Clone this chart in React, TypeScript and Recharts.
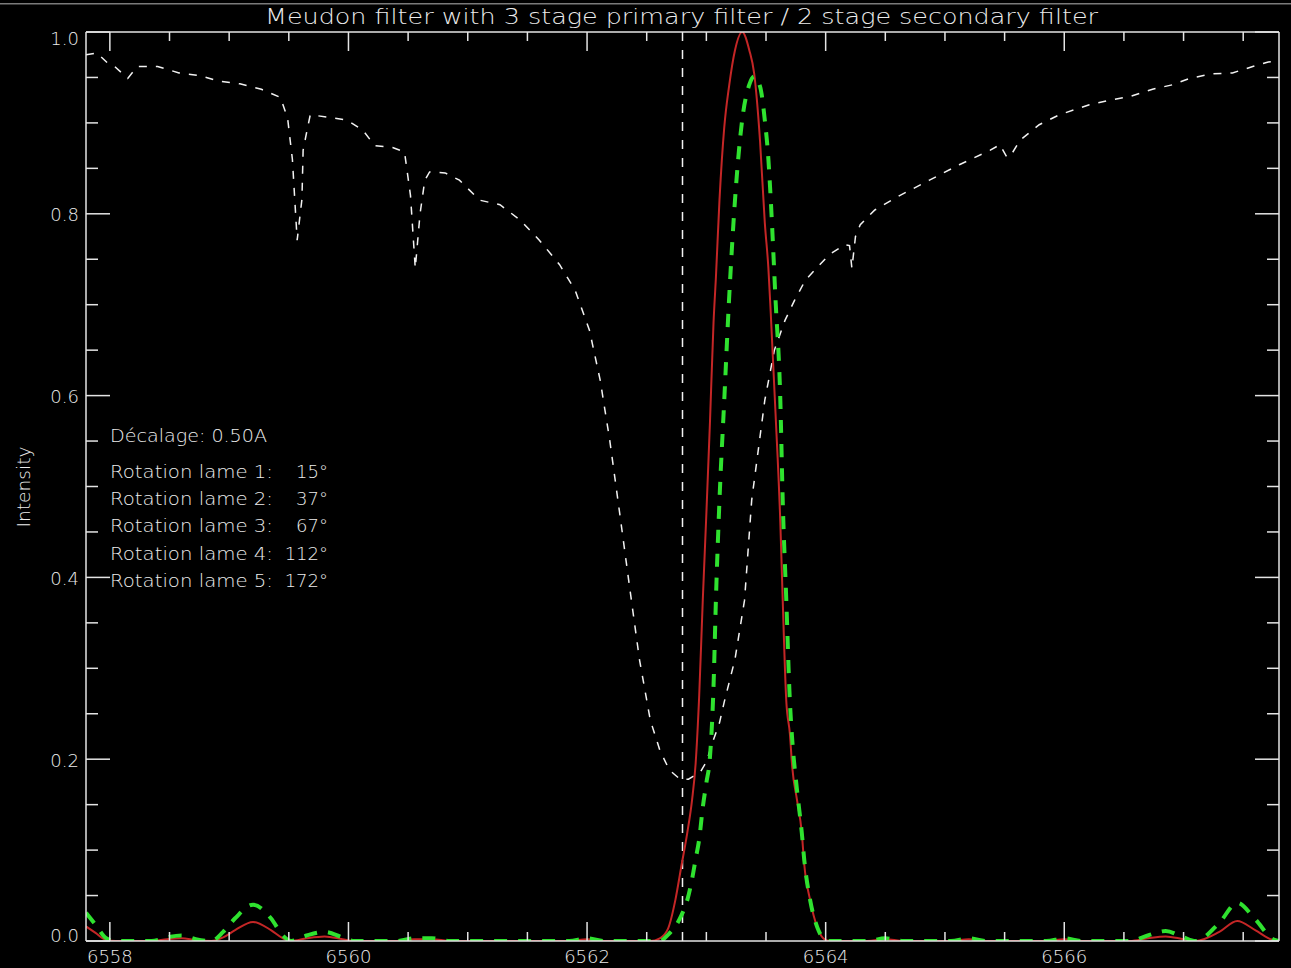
import React from 'react';
import { LineChart, Line, XAxis, YAxis, ReferenceLine } from 'recharts';

// ---------- data ----------
const spectrumWl = [6557.80, 6557.89, 6557.98, 6558.04, 6558.15, 6558.23, 6558.40, 6558.58, 6558.76, 6558.91, 6559.09, 6559.27, 6559.43, 6559.49, 6559.53, 6559.57, 6559.61, 6559.62, 6559.65, 6559.68, 6559.84, 6559.99, 6560.12, 6560.22, 6560.37, 6560.47, 6560.52, 6560.56, 6560.60, 6560.64, 6560.68, 6560.81, 6560.93, 6561.10, 6561.27, 6561.44, 6561.60, 6561.77, 6561.90, 6562.02, 6562.11, 6562.19, 6562.27, 6562.36, 6562.44, 6562.53, 6562.61, 6562.69, 6562.78, 6562.85, 6562.90, 6562.95, 6563.00, 6563.05, 6563.11, 6563.15, 6563.24, 6563.32, 6563.38, 6563.49, 6563.57, 6563.66, 6563.74, 6563.83, 6563.95, 6564.03, 6564.16, 6564.20, 6564.22, 6564.25, 6564.29, 6564.41, 6564.62, 6564.87, 6565.12, 6565.38, 6565.46, 6565.52, 6565.56, 6565.63, 6565.79, 6565.96, 6566.21, 6566.38, 6566.55, 6566.74, 6566.91, 6567.05, 6567.24, 6567.41, 6567.58, 6567.71, 6567.80];
const spectrumI = [0.975, 0.977, 0.966, 0.962, 0.949, 0.962, 0.962, 0.955, 0.952, 0.946, 0.943, 0.937, 0.928, 0.905, 0.860, 0.771, 0.816, 0.870, 0.890, 0.909, 0.906, 0.903, 0.892, 0.875, 0.873, 0.868, 0.820, 0.740, 0.800, 0.837, 0.846, 0.845, 0.837, 0.815, 0.810, 0.793, 0.771, 0.744, 0.716, 0.672, 0.617, 0.551, 0.474, 0.386, 0.309, 0.243, 0.210, 0.188, 0.178, 0.178, 0.182, 0.186, 0.197, 0.218, 0.240, 0.263, 0.310, 0.375, 0.485, 0.595, 0.650, 0.683, 0.705, 0.727, 0.744, 0.755, 0.766, 0.765, 0.740, 0.775, 0.788, 0.804, 0.820, 0.837, 0.854, 0.870, 0.876, 0.862, 0.866, 0.881, 0.898, 0.909, 0.920, 0.925, 0.929, 0.937, 0.942, 0.949, 0.954, 0.955, 0.962, 0.967, 0.968];

const filterWl = [6557.80, 6557.88, 6557.97, 6558.05, 6558.35, 6558.48, 6558.60, 6558.72, 6558.85, 6558.95, 6559.05, 6559.20, 6559.35, 6559.45, 6559.52, 6559.65, 6559.80, 6559.95, 6560.05, 6560.40, 6560.55, 6560.70, 6560.85, 6561.85, 6562.00, 6562.15, 6562.44, 6562.53, 6562.61, 6562.68, 6562.74, 6562.79, 6562.84, 6562.88, 6562.91, 6562.94, 6562.97, 6563.00, 6563.03, 6563.06, 6563.08, 6563.11, 6563.15, 6563.19, 6563.24, 6563.30, 6563.36, 6563.40, 6563.45, 6563.49, 6563.52, 6563.54, 6563.58, 6563.62, 6563.64, 6563.67, 6563.70, 6563.72, 6563.76, 6563.80, 6563.82, 6563.87, 6563.93, 6563.98, 6564.03, 6564.35, 6564.50, 6564.65, 6565.05, 6565.20, 6565.35, 6565.85, 6566.00, 6566.15, 6566.55, 6566.70, 6566.85, 6567.00, 6567.10, 6567.30, 6567.45, 6567.60, 6567.75, 6567.80];
const primaryI = [0.016, 0.009, 0.001, 0, 0, 0.002, 0.003, 0.001, 0, 0.004, 0.012, 0.021, 0.012, 0.003, 0, 0.003, 0.005, 0.002, 0, 0, 0.002, 0.002, 0, 0, 0.002, 0, 0, 0, 0.003, 0.014, 0.045, 0.082, 0.119, 0.155, 0.195, 0.270, 0.375, 0.470, 0.570, 0.680, 0.730, 0.815, 0.895, 0.940, 0.980, 1.000, 0.980, 0.955, 0.880, 0.790, 0.740, 0.690, 0.580, 0.460, 0.375, 0.264, 0.228, 0.191, 0.155, 0.119, 0.085, 0.045, 0.015, 0.003, 0, 0, 0.002, 0, 0, 0.002, 0, 0, 0.002, 0, 0, 0.003, 0.005, 0.002, 0, 0.010, 0.022, 0.012, 0.001, 0];
const secondaryI = [0.031, 0.018, 0.003, 0, 0, 0.004, 0.006, 0.002, 0, 0.010, 0.025, 0.040, 0.025, 0.006, 0, 0.006, 0.010, 0.004, 0, 0, 0.003, 0.003, 0, 0, 0.003, 0, 0, 0, 0, 0.007, 0.016, 0.028, 0.045, 0.068, 0.090, 0.112, 0.147, 0.174, 0.202, 0.280, 0.375, 0.485, 0.595, 0.705, 0.815, 0.903, 0.942, 0.951, 0.940, 0.903, 0.860, 0.815, 0.705, 0.595, 0.485, 0.375, 0.264, 0.221, 0.166, 0.119, 0.090, 0.045, 0.015, 0.003, 0, 0, 0.003, 0, 0, 0.003, 0, 0, 0.003, 0, 0, 0.006, 0.011, 0.004, 0, 0.020, 0.042, 0.024, 0.002, 0];

const lineCenter = 6562.8;

const xTicks = [6558, 6558.5, 6559, 6559.5, 6560, 6560.5, 6561, 6561.5, 6562, 6562.5, 6563, 6563.5, 6564, 6564.5, 6565, 6565.5, 6566, 6566.5, 6567, 6567.5];
const xMajor = [6558, 6560, 6562, 6564, 6566];
const yTicks = [0, 0.05, 0.1, 0.15, 0.2, 0.25, 0.3, 0.35, 0.4, 0.45, 0.5, 0.55, 0.6, 0.65, 0.7, 0.75, 0.8, 0.85, 0.9, 0.95, 1.0];
const yMajor = [0, 0.2, 0.4, 0.6, 0.8, 1.0];

const title = 'Meudon filter with 3 stage primary filter / 2 stage secondary filter';
const yLabel = 'Intensity';
const shiftText = 'Décalage: 0.50A';
const rotationLabels = ['Rotation lame 1:', 'Rotation lame 2:', 'Rotation lame 3:', 'Rotation lame 4:', 'Rotation lame 5:'];
const rotationValues = ['15°', '37°', '67°', '112°', '172°'];

// ---------- tables ----------
const spectrumData = spectrumWl.map((x, i) => ({ x, y: spectrumI[i] }));
const primaryData = filterWl.map((x, i) => ({ x, y: primaryI[i] }));
const secondaryData = filterWl.map((x, i) => ({ x, y: secondaryI[i] }));

// ---------- style ----------
const W = 1291;
const H = 968;
const AX = '#e4e4e4';
const TXT = '#ececec';
const FONT = '"DejaVu Sans", "Liberation Sans", sans-serif';
const FW = 200;
const DOMX: [number, number] = [6557.8, 6567.8];
const DOMY: [number, number] = [0, 1];

const isIn = (arr: number[], v: number) => arr.some((m) => Math.abs(m - v) < 1e-6);

const BottomTick = (p: any) => {
  const v = p.payload.value;
  const major = isIn(xMajor, v);
  return (
    <g>
      <line x1={p.x} x2={p.x} y1={p.y} y2={p.y - (major ? 19 : 9)} stroke={AX} strokeWidth={1.5} />
      {major && (
        <text x={p.x} y={p.y + 22} textAnchor="middle" fill={TXT} fontFamily={FONT} fontWeight={FW} fontSize={18}>
          {String(v)}
        </text>
      )}
    </g>
  );
};

const TopTick = (p: any) => {
  const v = p.payload.value;
  const major = isIn(xMajor, v);
  return <line x1={p.x} x2={p.x} y1={p.y} y2={p.y + (major ? 19 : 9)} stroke={AX} strokeWidth={1.5} />;
};

const LeftTick = (p: any) => {
  const v = p.payload.value;
  const major = isIn(yMajor, v);
  const dy = Math.abs(v - 1) < 1e-6 ? 13 : Math.abs(v) < 1e-6 ? 0.5 : 7.5;
  return (
    <g>
      <line x1={p.x} x2={p.x + (major ? 24 : 12)} y1={p.y} y2={p.y} stroke={AX} strokeWidth={1.5} />
      {major && (
        <text x={p.x - 7} y={p.y + dy} textAnchor="end" fill={TXT} fontFamily={FONT} fontWeight={FW} fontSize={18}>
          {v.toFixed(1)}
        </text>
      )}
    </g>
  );
};

const RightTick = (p: any) => {
  const v = p.payload.value;
  const major = isIn(yMajor, v);
  return <line x1={p.x} x2={p.x - (major ? 24 : 12)} y1={p.y} y2={p.y} stroke={AX} strokeWidth={1.5} />;
};

export default function App() {
  return (
    <div style={{ position: 'absolute', left: 0, top: 0, width: W, height: H, background: '#000', overflow: 'hidden' }}>
      <LineChart width={W} height={H} margin={{ top: 0, right: 0, bottom: 0, left: 0 }}>
        <XAxis
          xAxisId="b"
          orientation="bottom"
          type="number"
          dataKey="x"
          domain={DOMX}
          ticks={xTicks}
          interval={0}
          height={27}
          allowDataOverflow
          tickLine={false}
          tickSize={0}
          tickMargin={0}
          axisLine={{ stroke: AX, strokeWidth: 1.5 }}
          tick={(p: any) => <BottomTick {...p} />}
        />
        <XAxis
          xAxisId="t"
          orientation="top"
          type="number"
          dataKey="x"
          domain={DOMX}
          ticks={xTicks}
          interval={0}
          height={32}
          allowDataOverflow
          tickLine={false}
          tickSize={0}
          tickMargin={0}
          axisLine={{ stroke: AX, strokeWidth: 1.5 }}
          tick={(p: any) => <TopTick {...p} />}
        />
        <YAxis
          yAxisId="l"
          orientation="left"
          type="number"
          domain={DOMY}
          ticks={yTicks}
          interval={0}
          width={86}
          allowDataOverflow
          tickLine={false}
          tickSize={0}
          tickMargin={0}
          axisLine={{ stroke: AX, strokeWidth: 1.5 }}
          tick={(p: any) => <LeftTick {...p} />}
        />
        <YAxis
          yAxisId="r"
          orientation="right"
          type="number"
          domain={DOMY}
          ticks={yTicks}
          interval={0}
          width={12}
          allowDataOverflow
          tickLine={false}
          tickSize={0}
          tickMargin={0}
          axisLine={{ stroke: AX, strokeWidth: 1.5 }}
          tick={(p: any) => <RightTick {...p} />}
        />
        <Line
          xAxisId="b"
          yAxisId="l"
          data={spectrumData}
          dataKey="y"
          type="linear"
          stroke="#f2f2f2"
          strokeWidth={1.5}
          strokeDasharray="8 9"
          dot={false}
          activeDot={false}
          isAnimationActive={false}
        />
        <ReferenceLine xAxisId="b" yAxisId="l" x={lineCenter} stroke="#f2f2f2" strokeWidth={1.5} strokeDasharray="9 9" />
        <Line
          xAxisId="b"
          yAxisId="l"
          data={primaryData}
          dataKey="y"
          type="monotone"
          stroke="#c42626"
          strokeWidth={2}
          dot={false}
          activeDot={false}
          isAnimationActive={false}
        />
        <Line
          xAxisId="b"
          yAxisId="l"
          data={secondaryData}
          dataKey="y"
          type="monotone"
          stroke="#2fe22f"
          strokeWidth={4}
          strokeDasharray="13 11"
          dot={false}
          activeDot={false}
          isAnimationActive={false}
        />
      </LineChart>
      <svg width={W} height={H} style={{ position: 'absolute', left: 0, top: 0, pointerEvents: 'none' }}>
        <rect x={0} y={3} width={W} height={1.5} fill="#7a7a7a" />
        <text x={265} y={24} fill={TXT} fontFamily={FONT} fontWeight={FW} fontSize={21} textLength={833} lengthAdjust="spacingAndGlyphs">
          {title}
        </text>
        <text
          x={30}
          y={487}
          transform="rotate(-90 30 487)"
          textAnchor="middle"
          fill={TXT}
          fontFamily={FONT}
          fontWeight={FW}
          fontSize={17}
          textLength={81}
          lengthAdjust="spacingAndGlyphs"
        >
          {yLabel}
        </text>
        <text x={110} y={442} fill={TXT} fontFamily={FONT} fontWeight={FW} fontSize={18} textLength={157} lengthAdjust="spacingAndGlyphs">
          {shiftText}
        </text>
        {rotationLabels.map((lab, i) => (
          <g key={lab}>
            <text x={110} y={478 + i * 27.2} fill={TXT} fontFamily={FONT} fontWeight={FW} fontSize={18} textLength={163} lengthAdjust="spacingAndGlyphs">
              {lab}
            </text>
            <text x={328} y={478 + i * 27.2} textAnchor="end" fill={TXT} fontFamily={FONT} fontWeight={FW} fontSize={18}>
              {rotationValues[i]}
            </text>
          </g>
        ))}
      </svg>
    </div>
  );
}
